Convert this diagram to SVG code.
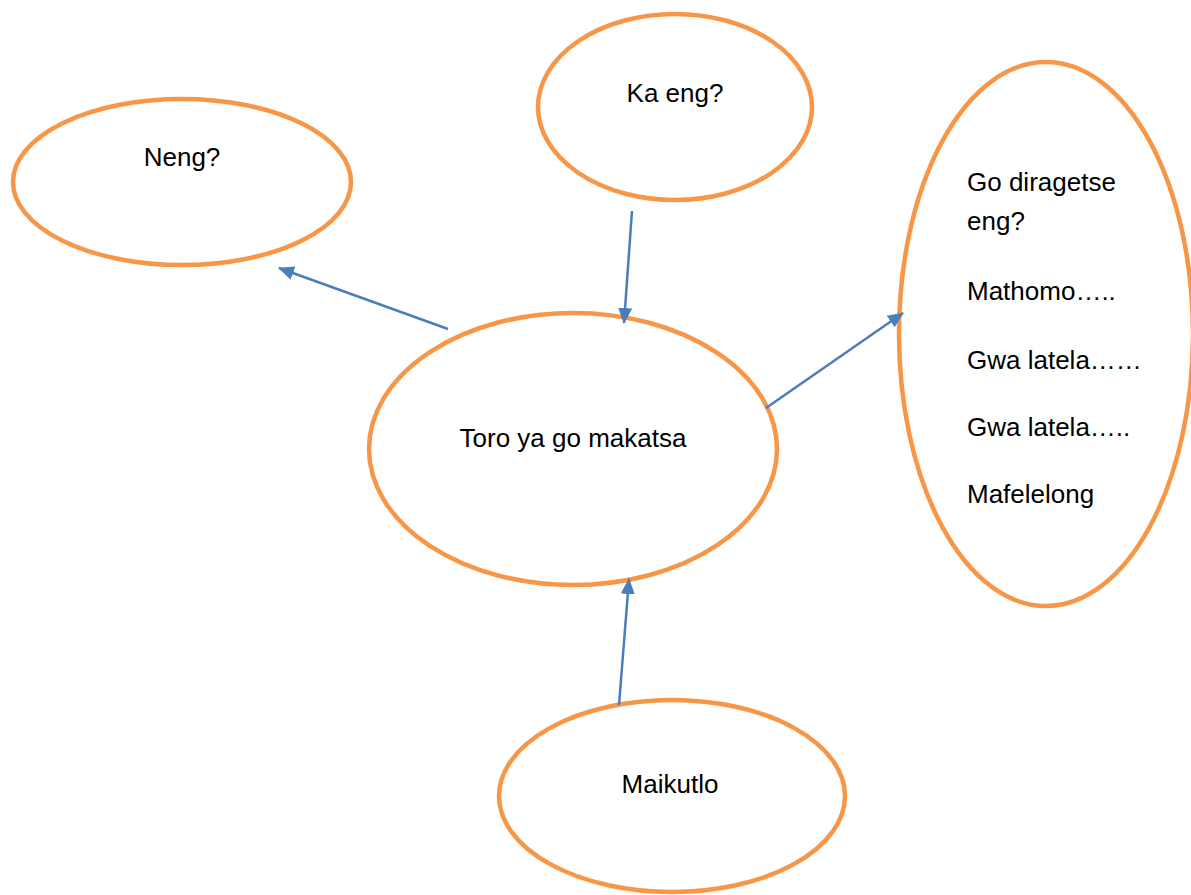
<svg xmlns="http://www.w3.org/2000/svg" width="1191" height="895" viewBox="0 0 1191 895">
<style>
.node{fill:#fff;stroke:#F79646;stroke-width:4.5}
.t{font-family:"Liberation Sans",Arial,sans-serif;font-size:26px;fill:#000}
.c{text-anchor:middle}
.edge{stroke:#4A7EBB;stroke-width:2.5;fill:none;marker-end:url(#ah)}
</style>
<defs>
<marker id="ah" markerWidth="16" markerHeight="14" refX="15" refY="7" orient="auto" markerUnits="userSpaceOnUse" viewBox="0 0 16 14">
<path d="M0,0 L16,7 L0,14 Z" fill="#4A7EBB"/>
</marker>
</defs>
<rect width="1191" height="895" fill="#fff"/>
<g id="neng"><ellipse class="node" cx="182" cy="182" rx="169" ry="83"/><text class="t c" x="182" y="166">Neng?</text></g>
<g id="kaeng"><ellipse class="node" cx="675" cy="107" rx="137" ry="93"/><text class="t c" x="675" y="102">Ka eng?</text></g>
<g id="godiragetse"><ellipse class="node" cx="1046" cy="334" rx="147" ry="272"/>
<text class="t" x="967" y="191">Go diragetse</text>
<text class="t" x="967" y="230">eng?</text>
<text class="t" x="967" y="300">Mathomo…..</text>
<text class="t" x="967" y="369">Gwa latela……</text>
<text class="t" x="967" y="436">Gwa latela…..</text>
<text class="t" x="967" y="503">Mafelelong</text>
</g>
<g id="toro"><ellipse class="node" cx="573" cy="449" rx="204" ry="136"/><text class="t c" x="573" y="447">Toro ya go makatsa</text></g>
<g id="maikutlo"><ellipse class="node" cx="672" cy="796" rx="173" ry="96"/><text class="t c" x="670" y="793">Maikutlo</text></g>
<g id="connectors">
<line class="edge" x1="448" y1="329" x2="279" y2="268"/>
<line class="edge" x1="632" y1="211" x2="624" y2="323"/>
<line class="edge" x1="766" y1="408" x2="903" y2="313"/>
<line class="edge" x1="619" y1="705" x2="629" y2="579"/>
</g>
</svg>
